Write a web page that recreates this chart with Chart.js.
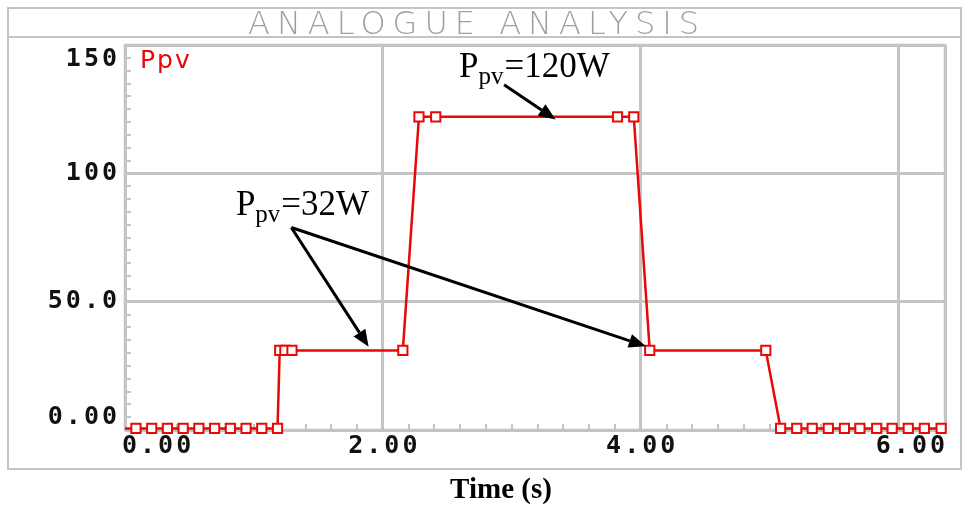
<!DOCTYPE html>
<html lang="en">
<head>
  <meta charset="UTF-8">
  <title>Analogue Analysis - Ppv</title>
  <script src="https://cdn.jsdelivr.net/npm/chart.js"></script>
  <style>
    html, body { margin: 0; padding: 0; background: #fff; }
    canvas { display: block; }
  </style>
</head>
<body>
  <canvas id="myChart" width="963" height="506"></canvas>

  <script>
    // valores (tempo em s, potencia em W)
    const timeS = [
      0, 0.085, 0.207, 0.329, 0.451, 0.573, 0.695, 0.817, 0.939, 1.061, 1.183,
      1.20, 1.24, 1.295, 2.155,
      2.28, 2.41, 3.82, 3.946,
      4.07, 4.97,
      5.085, 5.21, 5.33, 5.455, 5.58, 5.70, 5.83, 5.95, 6.075, 6.20, 6.33
    ];
    const ppvW = [
      0.6, 0.6, 0.6, 0.6, 0.6, 0.6, 0.6, 0.6, 0.6, 0.6, 0.6,
      31, 31, 31, 31,
      122, 122, 122, 122,
      31, 31,
      0.6, 0.6, 0.6, 0.6, 0.6, 0.6, 0.6, 0.6, 0.6, 0.6, 0.6
    ];
    const seriesLabel = 'Ppv';
    const xTickValues = [0, 2, 4, 6];
    const xTickLabels = ['0.00', '2.00', '4.00', '6.00'];
    const yTickValues = [0, 50, 100, 150];
    const yTickLabels = ['0.00', '50.0', '100', '150'];
    const chartTitle = 'ANALOGUE ANALYSIS';
    const xTitle = 'Time (s)';
    const notes = [
      { main: 'P', sub: 'pv', rest: '=120W' },
      { main: 'P', sub: 'pv', rest: '=32W' }
    ];

    const GRID = '#c4c4c4';
    const RED = 'rgb(232, 8, 8)';

    function arrow(ctx, x1, y1, x2, y2) {
      const a = Math.atan2(y2 - y1, x2 - x1);
      const len = 17, hw = 7;
      const bx = x2 - len * Math.cos(a), by = y2 - len * Math.sin(a);
      ctx.beginPath();
      ctx.moveTo(x1, y1);
      ctx.lineTo(bx, by);
      ctx.stroke();
      ctx.beginPath();
      ctx.moveTo(x2, y2);
      ctx.lineTo(bx + hw * Math.sin(a), by - hw * Math.cos(a));
      ctx.lineTo(bx - hw * Math.sin(a), by + hw * Math.cos(a));
      ctx.closePath();
      ctx.fill();
    }

    function note(ctx, n, x, y) {
      ctx.textAlign = 'left';
      ctx.textBaseline = 'alphabetic';
      ctx.font = '35px "Liberation Serif"';
      ctx.fillText(n.main, x, y);
      x += ctx.measureText(n.main).width;
      ctx.font = '25px "Liberation Serif"';
      ctx.fillText(n.sub, x, y + 7);
      x += ctx.measureText(n.sub).width + 1;
      ctx.font = '35px "Liberation Serif"';
      ctx.fillText(n.rest, x, y);
    }

    const pspiceLook = {
      id: 'pspiceLook',
      beforeDraw(chart) {
        const ctx = chart.ctx;
        ctx.save();
        // moldura e faixa do titulo
        ctx.strokeStyle = GRID;
        ctx.lineWidth = 2;
        ctx.strokeRect(8, 8, 953, 461);
        ctx.beginPath();
        ctx.moveTo(8, 37);
        ctx.lineTo(961, 37);
        ctx.stroke();
        ctx.fillStyle = '#a0a0a0';
        ctx.font = '200 32px "DejaVu Sans"';
        ctx.textBaseline = 'alphabetic';
        ctx.textAlign = 'left';
        ctx.letterSpacing = '7px';
        ctx.fillText(chartTitle, 248, 34);
        ctx.restore();
      },
      beforeDatasetsDraw(chart) {
        const { ctx, chartArea: a, scales: { x, y } } = chart;
        ctx.save();
        ctx.strokeStyle = GRID;
        ctx.lineWidth = 2.5;
        ctx.strokeRect(a.left, a.top, a.right - a.left, a.bottom - a.top);
        // tiques menores
        ctx.lineWidth = 2;
        ctx.beginPath();
        for (let v = 5; v < 150; v += 5) {
          if (v % 50 === 0) continue;
          const py = Math.round(y.getPixelForValue(v));
          ctx.moveTo(a.left, py);
          ctx.lineTo(a.left + 6, py);
        }
        for (let i = 1; i * 0.2 < x.max; i++) {
          if (i % 10 === 0) continue;
          const px = Math.round(x.getPixelForValue(i * 0.2));
          ctx.moveTo(px, a.bottom);
          ctx.lineTo(px, a.bottom - 6);
        }
        ctx.stroke();
        ctx.restore();
      },
      afterDraw(chart) {
        const { ctx, chartArea: a, scales: { x, y } } = chart;
        ctx.save();
        // rotulos dos eixos
        ctx.fillStyle = '#111';
        ctx.font = 'bold 25px "DejaVu Sans Mono"';
        ctx.letterSpacing = '3px';
        ctx.textBaseline = 'middle';
        const nx = xTickValues.length;
        xTickValues.forEach((v, i) => {
          const px = x.getPixelForValue(v);
          ctx.textAlign = i === 0 ? 'left' : (i === nx - 1 ? 'right' : 'center');
          const tx = i === 0 ? a.left - 3 : (i === nx - 1 ? a.right + 3 : px + 1.5);
          ctx.fillText(xTickLabels[i], tx, a.bottom + 16);
        });
        ctx.textAlign = 'right';
        const ny = yTickValues.length;
        yTickValues.forEach((v, i) => {
          let py = y.getPixelForValue(v);
          if (i === 0) py = a.bottom - 13;
          if (i === ny - 1) py = a.top + 14;
          ctx.fillText(yTickLabels[i], 120, py);
        });
        // legenda
        ctx.fillStyle = RED;
        ctx.textAlign = 'left';
        ctx.textBaseline = 'alphabetic';
        ctx.font = '25px "DejaVu Sans"';
        ctx.letterSpacing = '2px';
        ctx.fillText(chart.data.datasets[0].label, a.left + 15, a.top + 23);
        ctx.letterSpacing = '0px';
        // anotacoes
        ctx.fillStyle = '#000';
        ctx.strokeStyle = '#000';
        ctx.lineWidth = 3;
        note(ctx, notes[0], x.getPixelForValue(2.59), y.getPixelForValue(137.5));
        note(ctx, notes[1], x.getPixelForValue(0.86), y.getPixelForValue(83.6));
        arrow(ctx, x.getPixelForValue(2.94), y.getPixelForValue(134.5),
                   x.getPixelForValue(3.34), y.getPixelForValue(121));
        arrow(ctx, x.getPixelForValue(1.29), y.getPixelForValue(78.9),
                   x.getPixelForValue(1.89), y.getPixelForValue(32.4));
        arrow(ctx, x.getPixelForValue(1.29), y.getPixelForValue(78.9),
                   x.getPixelForValue(4.04), y.getPixelForValue(32.6));
        // titulo do eixo x
        ctx.font = 'bold 29px "Liberation Serif"';
        ctx.textAlign = 'center';
        ctx.fillText(xTitle, 501, 498);
        ctx.restore();
      }
    };

    const points = timeS.map((t, i) => ({ x: t, y: ppvW[i] }));

    const ctx = document.getElementById('myChart').getContext('2d');
    const myChart = new Chart(ctx, {
      type: 'line',
      data: {
        datasets: [{
          label: seriesLabel,
          data: points,
          borderColor: RED,
          borderWidth: 2.5,
          pointStyle: 'rect',
          pointRadius: (c) => c.dataIndex === 0 ? 0 : 6.5,
          pointBorderWidth: 2,
          pointBorderColor: RED,
          pointBackgroundColor: '#fff',
          tension: 0,
          clip: 6
        }]
      },
      options: {
        responsive: false,
        animation: false,
        events: [],
        layout: { padding: { left: 125, top: 45, right: 18, bottom: 76 } },
        plugins: {
          legend: { display: false },
          title: { display: false },
          tooltip: { enabled: false }
        },
        scales: {
          x: {
            type: 'linear',
            min: 0,
            max: 6.36,
            ticks: { display: false, stepSize: 2 },
            grid: { color: GRID, lineWidth: 3, drawTicks: false },
            border: { display: false }
          },
          y: {
            min: 0,
            max: 150,
            ticks: { display: false, stepSize: 50 },
            grid: { color: GRID, lineWidth: 3, drawTicks: false },
            border: { display: false }
          }
        }
      },
      plugins: [pspiceLook]
    });
  </script>
</body>
</html>
